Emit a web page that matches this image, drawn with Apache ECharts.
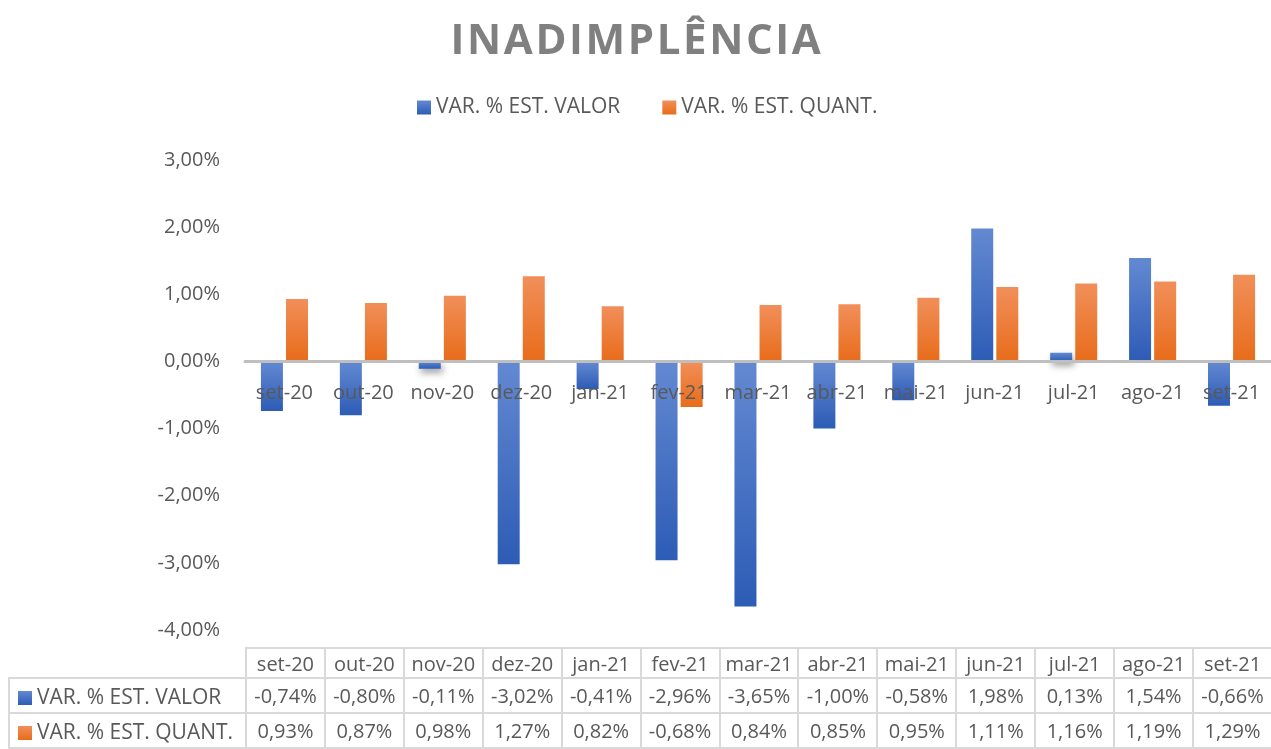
<!DOCTYPE html>
<html>
<head>
<meta charset="utf-8">
<script src="https://cdn.jsdelivr.net/npm/echarts@6/dist/echarts.min.js"></script>
<style>
	body { margin: 0; background: #fff; }
	#wrap { position: relative; width: 1271px; height: 749px; overflow: hidden; }
	#chart { position: absolute; left: 0; top: 0; width: 1271px; height: 749px; }
	#title {
		position: absolute; left: 0; top: 9px; width: 1271px; text-align: center;
		font-family: "Open Sans", sans-serif; font-weight: 700; font-size: 42px;
		letter-spacing: 2.6px; color: #808080; padding-left: 3px; box-sizing: border-box;
	}
	#tbl {
		position: absolute; left: 8px; top: 647px; width: 1263px;
		border-collapse: collapse; table-layout: fixed;
		font-family: "Open Sans", sans-serif; font-size: 20px; color: #595959;
	}
	#tbl td { border: 2px solid #d9d9d9; text-align: center; padding: 0; white-space: nowrap; overflow: hidden; }
	#tbl tr.head td { height: 28px; }
	#tbl tr.row td { height: 33px; }
	#tbl td.lbl { text-align: left; padding-left: 8px; font-size: 21px; }
	#tbl td.blank { border-top: none; border-left: none; }
	.mk { display: inline-block; width: 14px; height: 14px; margin-right: 5px; vertical-align: -1px; }
</style>
</head>
<body>
<div id="wrap">
	<div id="chart"></div>
	<div id="title">INADIMPLÊNCIA</div>
	<table id="tbl"></table>
</div>
<script>
const months = ["set-20", "out-20", "nov-20", "dez-20", "jan-21", "fev-21", "mar-21", "abr-21", "mai-21", "jun-21", "jul-21", "ago-21", "set-21"];
const valor = [-0.74, -0.80, -0.11, -3.02, -0.41, -2.96, -3.65, -1.00, -0.58, 1.98, 0.13, 1.54, -0.66];
const quant = [0.93, 0.87, 0.98, 1.27, 0.82, -0.68, 0.84, 0.85, 0.95, 1.11, 1.16, 1.19, 1.29];
const seriesNames = ["VAR. % EST. VALOR", "VAR. % EST. QUANT."];

const blue = new echarts.graphic.LinearGradient(0, 0, 0, 1, [
	{ offset: 0, color: "#6389d1" },
	{ offset: 1, color: "#2d5cb6" },
]);
const orange = new echarts.graphic.LinearGradient(0, 0, 0, 1, [
	{ offset: 0, color: "#f18f5a" },
	{ offset: 1, color: "#e86c1a" },
]);

const pct = (v) => v.toFixed(2).replace(".", ",") + "%";
const font = "'Open Sans', sans-serif";

const barShadow = {
	shadowColor: "rgba(0,0,0,0.4)",
	shadowBlur: 7,
	shadowOffsetX: 2,
	shadowOffsetY: 4,
};

const option = {
	animation: false,
	legend: {
		top: 92,
		left: 412,
		itemWidth: 14,
		itemHeight: 14,
		itemGap: 42,
		icon: "path://M0,0H10V10H0Z",
		itemStyle: { shadowBlur: 0, shadowOffsetX: 0, shadowOffsetY: 0 },
		textStyle: { color: "#595959", fontSize: 21, fontFamily: font },
		data: seriesNames,
	},
	grid: { left: 245, right: 0, top: 160, bottom: 119 },
	xAxis: {
		type: "category",
		data: months,
		z: 5,
		offset: 0,
		axisLine: { onZero: false, lineStyle: { color: "#bfbfbf", width: 3 } },
		axisTick: { show: false },
		axisLabel: { color: "#595959", fontSize: 20, fontFamily: font, margin: 22, interval: 0 },
	},
	yAxis: {
		type: "value",
		min: -4,
		max: 3,
		interval: 1,
		axisLine: { show: false },
		axisTick: { show: false },
		splitLine: { show: false },
		axisLabel: { color: "#595959", fontSize: 20, fontFamily: font, margin: 25, formatter: pct },
	},
	series: [
		{
			name: seriesNames[0],
			type: "bar",
			barWidth: 22,
			barGap: "14%",
			itemStyle: Object.assign({ color: blue }, barShadow),
			data: valor,
		},
		{
			name: seriesNames[1],
			type: "bar",
			barWidth: 22,
			barGap: "14%",
			itemStyle: Object.assign({ color: orange }, barShadow),
			data: quant,
		},
	],
};

const chart = echarts.init(document.getElementById("chart"), null, { renderer: "canvas" });
chart.setOption(option);

// move the category axis (line + labels) up to the zero level of the value axis
const yZero = chart.convertToPixel({ yAxisIndex: 0 }, 0);
const yMin = chart.convertToPixel({ yAxisIndex: 0 }, option.yAxis.min);
chart.setOption({ xAxis: { offset: -(yMin - yZero) } });

// data table under the chart, columns follow the category axis
const tbl = document.getElementById("tbl");
const colW = (1271 - 245) / months.length;
let html = '<colgroup><col style="width:' + (245 - 8) + 'px">';
months.forEach(() => (html += '<col style="width:' + colW + 'px">'));
html += "</colgroup>";
html += '<tr class="head"><td class="blank"></td>' + months.map((m) => "<td>" + m + "</td>").join("") + "</tr>";
const rows = [
	{ name: seriesNames[0], color: "linear-gradient(#6389d1,#2d5cb6)", vals: valor },
	{ name: seriesNames[1], color: "linear-gradient(#f18f5a,#e86c1a)", vals: quant },
];
rows.forEach((r) => {
	html += '<tr class="row"><td class="lbl"><span class="mk" style="background:' + r.color + '"></span>' + r.name + "</td>";
	html += r.vals.map((v) => "<td>" + pct(v) + "</td>").join("") + "</tr>";
});
tbl.innerHTML = html;
</script>
</body>
</html>
